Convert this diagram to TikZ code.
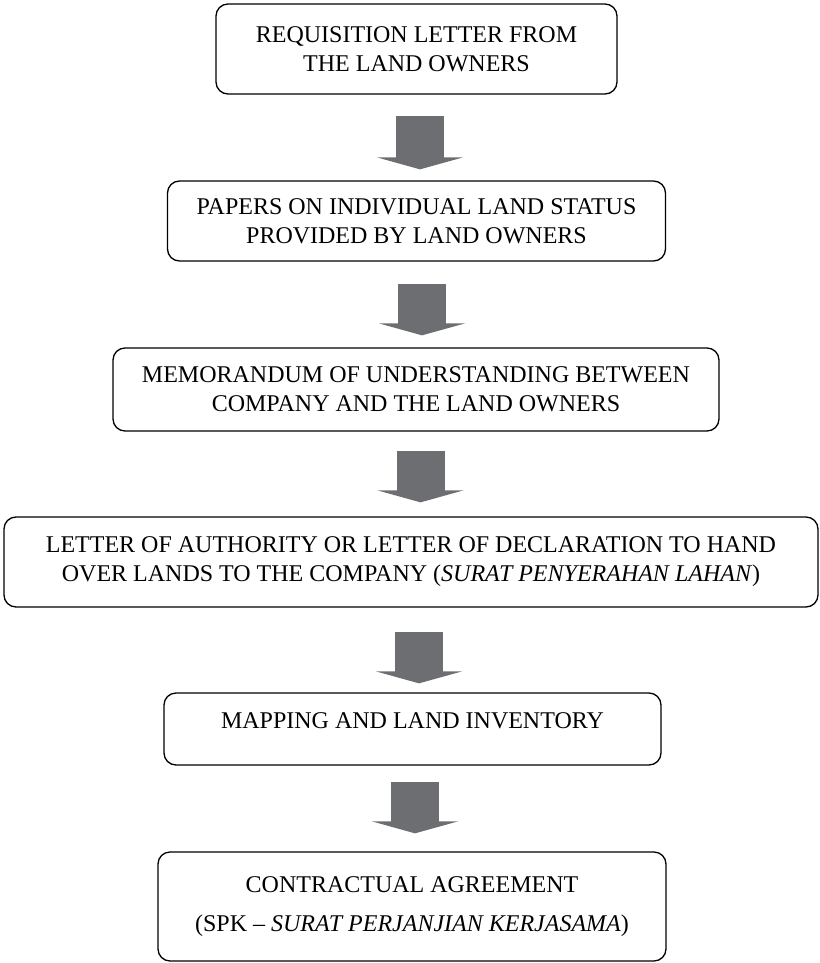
\documentclass[tikz,border=0pt]{standalone}
\usepackage{fontspec}
\setmainfont{Liberation Serif}
\usetikzlibrary{arrows.meta}
\definecolor{gris}{HTML}{6D6E71}
\begin{document}
\begin{tikzpicture}[x=1pt,y=-1pt]
		\tikzstyle{etape}=[draw,line width=1.3pt,rounded corners=12pt,align=center,inner sep=0pt,font=\fontsize{24}{29}\selectfont]
		\tikzstyle{grossefleche}=[draw=gris,line width=48pt,-{Triangle[length=12pt,width=86pt]}]
		
		\useasboundingbox (0,0) rectangle (819,963);
		
		\node[etape,minimum width=401pt,minimum height=90pt] (E1) at (416.5,49) {REQUISITION LETTER FROM\\THE LAND OWNERS};
		\node[etape,minimum width=498pt,minimum height=80pt] (E2) at (416.5,221) {PAPERS ON INDIVIDUAL LAND STATUS\\PROVIDED BY LAND OWNERS};
		\node[etape,minimum width=606pt,minimum height=83pt] (E3) at (416,389.5) {MEMORANDUM OF UNDERSTANDING BETWEEN\\COMPANY AND THE LAND OWNERS};
		\node[etape,minimum width=814pt,minimum height=90pt] (E4) at (411,562) {LETTER OF AUTHORITY OR LETTER OF DECLARATION TO HAND\\OVER LANDS TO THE COMPANY (\textit{SURAT PENYERAHAN LAHAN})};
		\node[etape,minimum width=497pt,minimum height=72pt,text depth=16pt] (E5) at (412.5,729) {MAPPING AND LAND INVENTORY};
		\node[etape,minimum width=508pt,minimum height=109pt] (E6) at (412,906.5) {CONTRACTUAL AGREEMENT\\[10pt](SPK \textendash{} \textit{SURAT PERJANJIAN KERJASAMA})};
		
		\draw[grossefleche] ([xshift=3.5pt,yshift=-21pt]E1.south)--([xshift=3.5pt,yshift=11pt]E2.north);
		\draw[grossefleche] ([xshift=5.5pt,yshift=-22pt]E2.south)--([xshift=6pt,yshift=12pt]E3.north);
		\draw[grossefleche] ([xshift=4.5pt,yshift=-19pt]E3.south)--([xshift=9.5pt,yshift=14pt]E4.north);
		\draw[grossefleche] ([xshift=8pt,yshift=-24pt]E4.south)--([xshift=6.5pt,yshift=9pt]E5.north);
		\draw[grossefleche] ([xshift=2.5pt,yshift=-16pt]E5.south)--([xshift=3pt,yshift=18pt]E6.north);
	\end{tikzpicture}
\end{document}
